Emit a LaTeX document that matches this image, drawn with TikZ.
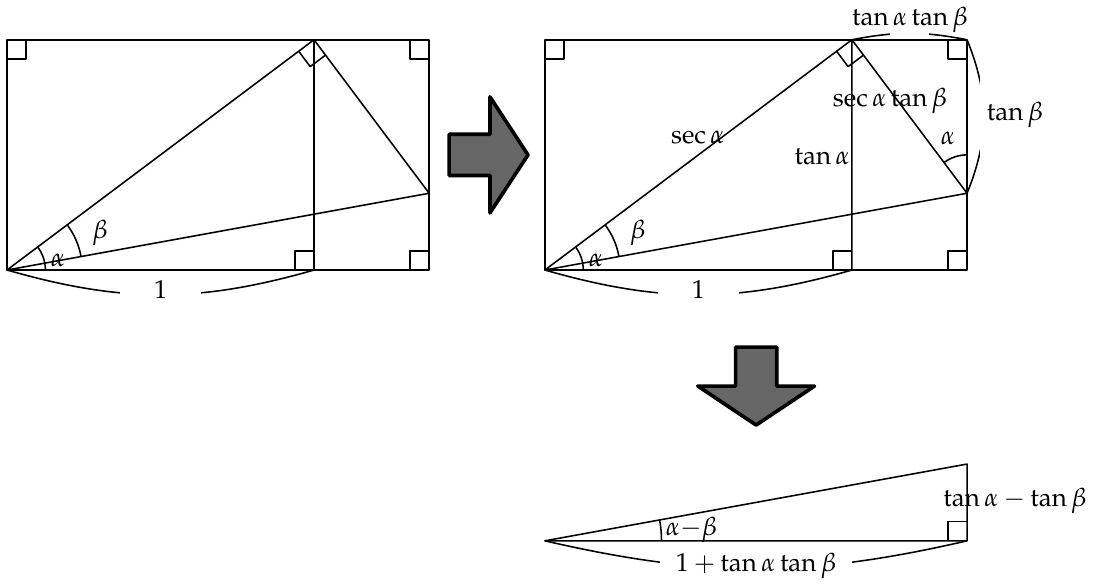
\documentclass[tikz,border=0pt]{standalone}
\usepackage{amsmath}
\usepackage{mathpazo}
\usetikzlibrary{angles,calc}

\begin{document}
\begin{tikzpicture}[x=4.16cm,y=4.16cm,semithick,line join=round,
  rmark/.style={draw,angle radius=2.6mm},
  arcmark/.style={draw,angle radius=#1},
  gap/.style={fill=white,inner sep=0pt},
  span/.style={semithick},
  bigarrow/.style={draw=black,fill=black!60,line width=1.4pt}]
  \useasboundingbox (-0.0228,-1.0195) rectangle (3.560,0.8795);

  \foreach \s/\n in {0/a,1.752/b}{
    \begin{scope}[shift={(\s,0)}]
      \coordinate (O\n) at (0,0);
      \coordinate (A\n) at (1,0);
      \coordinate (P\n) at (1,0.75);
      \coordinate (Q\n) at (0,0.75);
      \coordinate (C\n) at (1.375,0.75);
      \coordinate (R\n) at (1.375,0.25);
      \coordinate (B\n) at (1.375,0);
      \draw (O\n) rectangle (C\n);
      \draw (A\n) -- (P\n) -- (O\n) -- (R\n) -- (P\n);
      \pic[rmark] {right angle=O\n--Q\n--C\n};
      \pic[rmark] {right angle=Q\n--C\n--B\n};
      \pic[rmark] {right angle=C\n--B\n--O\n};
      \pic[rmark] {right angle=O\n--A\n--P\n};
      \pic[rmark] {right angle=O\n--P\n--R\n};
      \pic[arcmark=5.2mm] {angle=A\n--O\n--P\n};
      \pic[arcmark=10.2mm] {angle=R\n--O\n--P\n};
      \node (alpha\n) at (0.166,0.03) {$\alpha$};
      \node (beta\n) at (0.303,0.12) {$\beta$};
      \draw[span] (O\n) to[bend right=16]
        node[gap,minimum width=31pt,minimum height=10pt,yshift=2pt] (one\n) {$1$} (A\n);
    \end{scope}
  }

  \begin{scope}[shift={(1.752,0)}]
    \node (secA) at (0.498,0.433) {$\sec\alpha$};
    \node[anchor=east,inner sep=0.5pt] (tanA) at (1,0.368) {$\tan\alpha$};
    \node (secAtanB) at (1.124,0.55) {$\sec\alpha\tan\beta$};
    \node (alphaR) at (1.313,0.43) {$\alpha$};
    \pic[arcmark=5.2mm] {angle=Cb--Rb--Pb};
    \draw[span] (Pb) to[bend left=11]
      node[gap,minimum width=15pt,minimum height=3pt] (gapT) {} (Cb);
    \node (tanAtanB) at (1.189,0.814) {$\tan\alpha\tan\beta$};
    \draw[span] (Cb) to[bend left=22]
      node[gap,minimum width=3pt,minimum height=33pt] (gapR) {} (Rb);
    \node (tanB) at (1.531,0.505) {$\tan\beta$};
  \end{scope}

  \begin{scope}[shift={(1.752,-0.882)}]
    \coordinate (Oc) at (0,0);
    \coordinate (Bc) at (1.375,0);
    \coordinate (Tc) at (1.375,0.25);
    \draw (Oc) -- (Bc) -- (Tc) -- cycle;
    \pic[rmark] {right angle=Oc--Bc--Tc};
    \pic[arcmark=15.8mm] {angle=Bc--Oc--Tc};
    \node (diff) at (0.477,0.036) {$\alpha{-}\beta$};
    \node (tanDiff) at (1.531,0.13) {$\tan\alpha-\tan\beta$};
    \draw[span] (Oc) to[bend right=13]
      node[gap,minimum width=74pt,minimum height=12pt,yshift=1pt] (sum) {$1+\tan\alpha\tan\beta$} (Bc);
  \end{scope}

  \draw[bigarrow] (1.44,0.308) -- ++(0.133,0) -- ++(0,-0.122) -- ++(0.124,0.189)
    -- ++(-0.124,0.189) -- ++(0,-0.122) -- ++(-0.133,0) -- cycle;
  \draw[bigarrow] (2.373,-0.251) -- ++(0,-0.127) -- ++(-0.123,0) -- ++(0.19,-0.127)
    -- ++(0.19,0.127) -- ++(-0.123,0) -- ++(0,0.127) -- cycle;
\end{tikzpicture}
\end{document}
